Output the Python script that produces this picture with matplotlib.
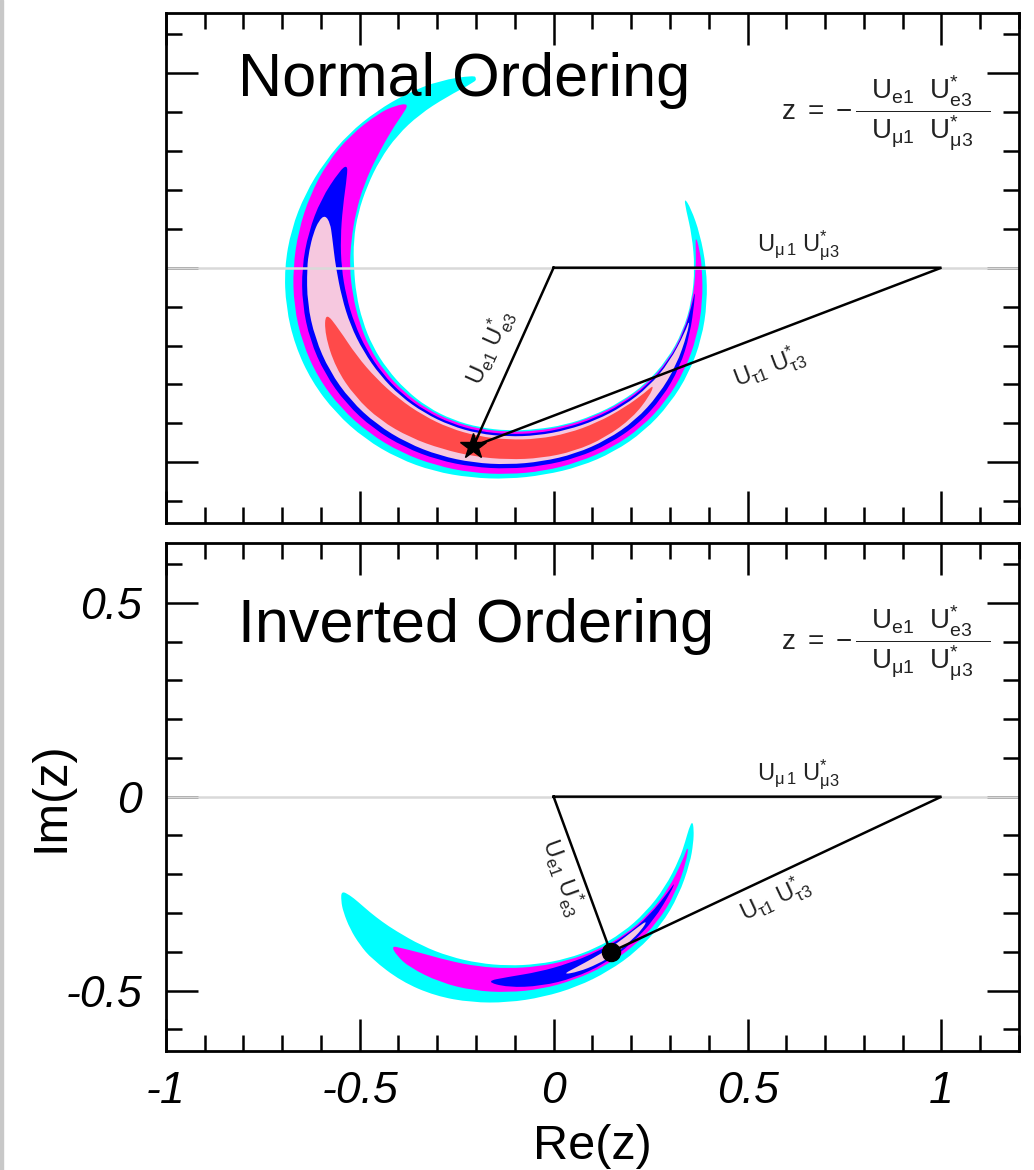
import numpy as np
import matplotlib
matplotlib.use("Agg")
import matplotlib.pyplot as plt
from matplotlib.ticker import MultipleLocator, FuncFormatter
from matplotlib.patches import Rectangle, PathPatch
from matplotlib.path import Path

plt.rcParams['font.family'] = ['Liberation Sans', 'DejaVu Sans']
plt.rcParams['mathtext.fontset'] = 'custom'
plt.rcParams['mathtext.rm'] = 'Liberation Sans'
plt.rcParams['mathtext.it'] = 'Liberation Sans:italic'
plt.rcParams['mathtext.bf'] = 'Liberation Sans:bold'
plt.rcParams['axes.unicode_minus'] = False

# ---------------- data ----------------
# common centre of the circle on which z lies (Re, Im)
center = (-0.118, 0.0)

# Allowed regions: boundaries in polar form about `center`
# angle (deg), outer radius, inner radius (first/last entries are the tips)
# ---- Normal ordering ----
no_cyan_theta = [99.5, 100, 110, 120, 130, 140, 150, 160, 170, 180, 190, 200, 210, 220, 230, 240,
                 250, 260, 270, 280, 290, 300, 310, 320, 330, 340, 350, 360, 370, 378, 381.6]
no_cyan_rout = [0.493, 0.502, 0.512, 0.518, 0.526, 0.536, 0.545, 0.556, 0.567, 0.576, 0.581, 0.584,
                0.584, 0.580, 0.574, 0.566, 0.557, 0.548, 0.543, 0.541, 0.544, 0.547, 0.548, 0.545,
                0.540, 0.532, 0.522, 0.512, 0.503, 0.496, 0.489]
no_cyan_rin = [0.493, 0.485, 0.466, 0.455, 0.444, 0.431, 0.419, 0.411, 0.404, 0.397, 0.397, 0.399,
               0.403, 0.406, 0.410, 0.414, 0.416, 0.417, 0.419, 0.422, 0.430, 0.439, 0.451, 0.464,
               0.474, 0.480, 0.482, 0.482, 0.482, 0.483, 0.489]

no_mag_theta = [121, 125, 130, 140, 150, 160, 170, 180, 190, 200, 210, 220, 230, 240, 250, 260,
                270, 280, 290, 300, 310, 320, 330, 340, 350, 360, 366, 369.6]
no_mag_rout = [0.493, 0.508, 0.518, 0.530, 0.538, 0.543, 0.548, 0.554, 0.560, 0.564, 0.565, 0.562,
               0.556, 0.549, 0.541, 0.535, 0.531, 0.531, 0.532, 0.535, 0.536, 0.533, 0.527, 0.519,
               0.510, 0.501, 0.496, 0.491]
no_mag_rin = [0.493, 0.477, 0.464, 0.442, 0.428, 0.417, 0.410, 0.408, 0.406, 0.408, 0.412, 0.415,
              0.417, 0.419, 0.420, 0.421, 0.422, 0.426, 0.433, 0.442, 0.454, 0.467, 0.477, 0.482,
              0.484, 0.485, 0.487, 0.491]

no_blue_theta = [147.5, 150, 160, 170, 180, 190, 200, 210, 220, 230, 240, 250, 260, 270, 280, 290,
                 300, 310, 320, 330, 340, 350, 353]
no_blue_rout = [0.491, 0.500, 0.513, 0.522, 0.531, 0.538, 0.543, 0.545, 0.544, 0.540, 0.533, 0.526,
                0.520, 0.517, 0.517, 0.520, 0.523, 0.524, 0.520, 0.512, 0.500, 0.489, 0.486]
no_blue_rin = [0.491, 0.478, 0.453, 0.438, 0.429, 0.423, 0.421, 0.421, 0.423, 0.424, 0.425, 0.426,
               0.427, 0.428, 0.432, 0.438, 0.447, 0.458, 0.470, 0.479, 0.484, 0.485, 0.486]

no_pink_theta = [164, 166, 170, 175, 180, 190, 200, 210, 220, 230, 240, 250, 260, 270, 280, 290,
                 300, 310, 320, 330, 340, 344.5]
no_pink_rout = [0.490, 0.502, 0.509, 0.514, 0.518, 0.525, 0.529, 0.531, 0.530, 0.526, 0.520, 0.514,
                0.509, 0.506, 0.506, 0.509, 0.511, 0.512, 0.508, 0.502, 0.493, 0.487]
no_pink_rin = [0.490, 0.472, 0.460, 0.450, 0.443, 0.435, 0.432, 0.430, 0.430, 0.431, 0.431, 0.432,
               0.433, 0.434, 0.438, 0.444, 0.453, 0.464, 0.475, 0.482, 0.486, 0.487]

no_red_theta = [193.5, 200, 210, 220, 230, 240, 250, 260, 270, 280, 290, 300, 310, 318, 321.5]
no_red_rout = [0.484, 0.502, 0.513, 0.515, 0.512, 0.504, 0.496, 0.493, 0.493, 0.497, 0.502, 0.504,
               0.502, 0.492, 0.482]
no_red_rin = [0.484, 0.463, 0.451, 0.443, 0.439, 0.438, 0.439, 0.440, 0.442, 0.447, 0.453, 0.460,
              0.469, 0.478, 0.482]

# ---- Inverted ordering ----
io_cyan_theta = [209.5, 212, 215, 220, 225, 230, 240, 250, 260, 270, 280, 290, 300, 310, 320, 330,
                 340, 346, 350, 352.5]
io_cyan_rout = [0.493, 0.507, 0.518, 0.531, 0.540, 0.546, 0.550, 0.547, 0.539, 0.531, 0.525, 0.522,
                0.520, 0.519, 0.516, 0.509, 0.500, 0.493, 0.487, 0.480]
io_cyan_rin = [0.493, 0.480, 0.472, 0.464, 0.457, 0.451, 0.444, 0.439, 0.436, 0.436, 0.439, 0.445,
               0.452, 0.459, 0.464, 0.468, 0.471, 0.472, 0.474, 0.480]

io_mag_theta = [232, 235, 240, 250, 260, 270, 280, 290, 300, 310, 320, 330, 340, 345.5]
io_mag_rout = [0.488, 0.500, 0.508, 0.510, 0.508, 0.505, 0.504, 0.503, 0.504, 0.505, 0.504, 0.499,
               0.490, 0.482]
io_mag_rin = [0.488, 0.477, 0.463, 0.450, 0.445, 0.443, 0.445, 0.450, 0.458, 0.467, 0.473, 0.478,
              0.480, 0.482]

io_blue_theta = [263, 270, 280, 290, 300, 310, 320, 330, 333]
io_blue_rout = [0.480, 0.492, 0.496, 0.498, 0.498, 0.496, 0.493, 0.487, 0.484]
io_blue_rin = [0.480, 0.465, 0.459, 0.458, 0.462, 0.470, 0.477, 0.482, 0.484]

io_pink_theta = [287, 292, 298, 304, 310, 315, 318.5]
io_pink_rout = [0.480, 0.487, 0.490, 0.491, 0.489, 0.487, 0.481]
io_pink_rin = [0.480, 0.474, 0.471, 0.471, 0.472, 0.475, 0.481]

# best-fit points and triangle base
no_best = (-0.207, -0.459)
io_best = (0.147, -0.401)
base_x = [0.0, 1.0]
base_y = [0.0, 0.0]

x_ticks = [-1, -0.5, 0, 0.5, 1]
y_ticks = [-0.5, 0, 0.5]

col_cyan = '#00ffff'
col_mag = '#ff00ff'
col_blue = '#0000ff'
col_pink = '#f6c8df'
col_red = '#ff4a4a'


def band(ax, theta, rout, rin, color):
    """Closed region from polar boundaries, drawn as a smooth quadratic-Bezier outline."""
    theta = np.asarray(theta, float)
    rout = np.asarray(rout, float)
    rin = np.asarray(rin, float)
    th = np.radians(np.concatenate([theta, theta[::-1][1:-1]]))
    rr = np.concatenate([rout, rin[::-1][1:-1]])
    pts = np.column_stack([center[0] + rr * np.cos(th), center[1] + rr * np.sin(th)])
    mids = 0.5 * (pts + np.roll(pts, -1, axis=0))
    verts = [mids[-1]]
    codes = [Path.MOVETO]
    for k in range(len(pts)):
        verts += [pts[k], mids[k]]
        codes += [Path.CURVE3, Path.CURVE3]
    verts.append(mids[-1])
    codes.append(Path.CLOSEPOLY)
    ax.add_patch(PathPatch(Path(verts, codes), facecolor=color, edgecolor='none',
                           lw=0, zorder=1))


def fmt(v, pos):
    return '%g' % v


fig = plt.figure(figsize=(10.34, 11.70), dpi=100)
fig.patches.append(Rectangle((0, 0), 3 / 1034, 1, transform=fig.transFigure,
                             color='#c8c8c8', zorder=0))

ax1 = fig.add_axes([0.1603, 0.5533, 0.8252, 0.4358])
ax2 = fig.add_axes([0.1603, 0.1020, 0.8252, 0.4342])

for ax in (ax1, ax2):
    ax.set_xlim(-1.0, 1.2)
    ax.set_ylim(-0.655, 0.655)
    ax.xaxis.set_major_locator(MultipleLocator(0.5))
    ax.xaxis.set_minor_locator(MultipleLocator(0.1))
    ax.yaxis.set_major_locator(MultipleLocator(0.5))
    ax.yaxis.set_minor_locator(MultipleLocator(0.1))
    ax.tick_params(which='both', direction='in', top=True, right=True, width=1.8,
                   color='black')
    ax.tick_params(which='major', length=23)
    ax.tick_params(which='minor', length=11.5)
    for s in ax.spines.values():
        s.set_linewidth(2.0)
    ax.axhline(0, color='#d9d9d9', lw=1.8, zorder=2)

# Normal ordering
band(ax1, no_cyan_theta, no_cyan_rout, no_cyan_rin, col_cyan)
band(ax1, no_mag_theta, no_mag_rout, no_mag_rin, col_mag)
band(ax1, no_blue_theta, no_blue_rout, no_blue_rin, col_blue)
band(ax1, no_pink_theta, no_pink_rout, no_pink_rin, col_pink)
band(ax1, no_red_theta, no_red_rout, no_red_rin, col_red)

# Inverted ordering
band(ax2, io_cyan_theta, io_cyan_rout, io_cyan_rin, col_cyan)
band(ax2, io_mag_theta, io_mag_rout, io_mag_rin, col_mag)
band(ax2, io_blue_theta, io_blue_rout, io_blue_rin, col_blue)
band(ax2, io_pink_theta, io_pink_rout, io_pink_rin, col_pink)

formula = (r'$\mathrm{z\ =\ {-}\,\dfrac{\ \ U_{e1}\ \ U^{*}_{e3}\ \ }'
           r'{\ \ U_{\mu1}\ \ U^{*}_{\mu3}\ \ }}$')
lab_mu = r'$\mathrm{U_{\mu\,1}\ U^{*}_{\mu3}}$'
lab_e = r'$\mathrm{U_{e1}\ U^{*}_{e3}}$'
lab_tau = r'$\mathrm{U_{\tau1}\ U^{*}_{\tau3}}$'

for ax, best, marker, ms, title, ty, e_off, tau_off in (
        (ax1, no_best, '*', 19, 'Normal Ordering', 0.442, (-0.165, -0.203), (0.557, -0.254)),
        (ax2, io_best, 'o', 13, 'Inverted Ordering', 0.400, (0.024, -0.207), (0.570, -0.264))):
    ax.plot([base_x[0], base_x[1], best[0], base_x[0]],
            [base_y[0], base_y[1], best[1], base_y[0]],
            color='black', lw=1.8, zorder=3, solid_joinstyle='miter')
    ax.plot([best[0]], [best[1]], marker=marker, color='black', ms=ms, zorder=4)
    ax.text(-0.815, ty, title, fontsize=44, ha='left', va='baseline', zorder=5)
    ax.text(0.855, 0.395, formula, fontsize=20, ha='center', va='center', color='#222222')
    ax.text(0.63, 0.055, lab_mu, fontsize=17, ha='center', va='center', color='#222222')
    ang_e = np.degrees(np.arctan2(best[1] - base_y[0], best[0] - base_x[0]))
    if ang_e < -90:
        ang_e += 180
    ax.text(e_off[0], e_off[1], lab_e, fontsize=17, ha='center', va='center',
            rotation=ang_e, rotation_mode='anchor', color='#222222')
    ang_t = np.degrees(np.arctan2(base_y[1] - best[1], base_x[1] - best[0]))
    ax.text(tau_off[0], tau_off[1], lab_tau, fontsize=17, ha='center', va='center',
            rotation=ang_t, rotation_mode='anchor', color='#222222')

ax1.tick_params(labelbottom=False, labelleft=False)

ax2.set_xticks(x_ticks)
ax2.set_yticks(y_ticks)
ax2.xaxis.set_major_formatter(FuncFormatter(fmt))
ax2.yaxis.set_major_formatter(FuncFormatter(fmt))
ax2.tick_params(axis='x', which='major', pad=15, labelsize=32)
ax2.tick_params(axis='y', which='major', pad=17, labelsize=32)
for lbl in ax2.get_xticklabels() + ax2.get_yticklabels():
    lbl.set_fontstyle('italic')

ax2.set_xlabel('Re(z)', fontsize=35)
ax2.set_ylabel('Im(z)', fontsize=35)
ax2.xaxis.set_label_coords(0.5, -0.145)
ax2.yaxis.set_label_coords(-0.108, 0.5)

fig.savefig('out.png', dpi=100)
